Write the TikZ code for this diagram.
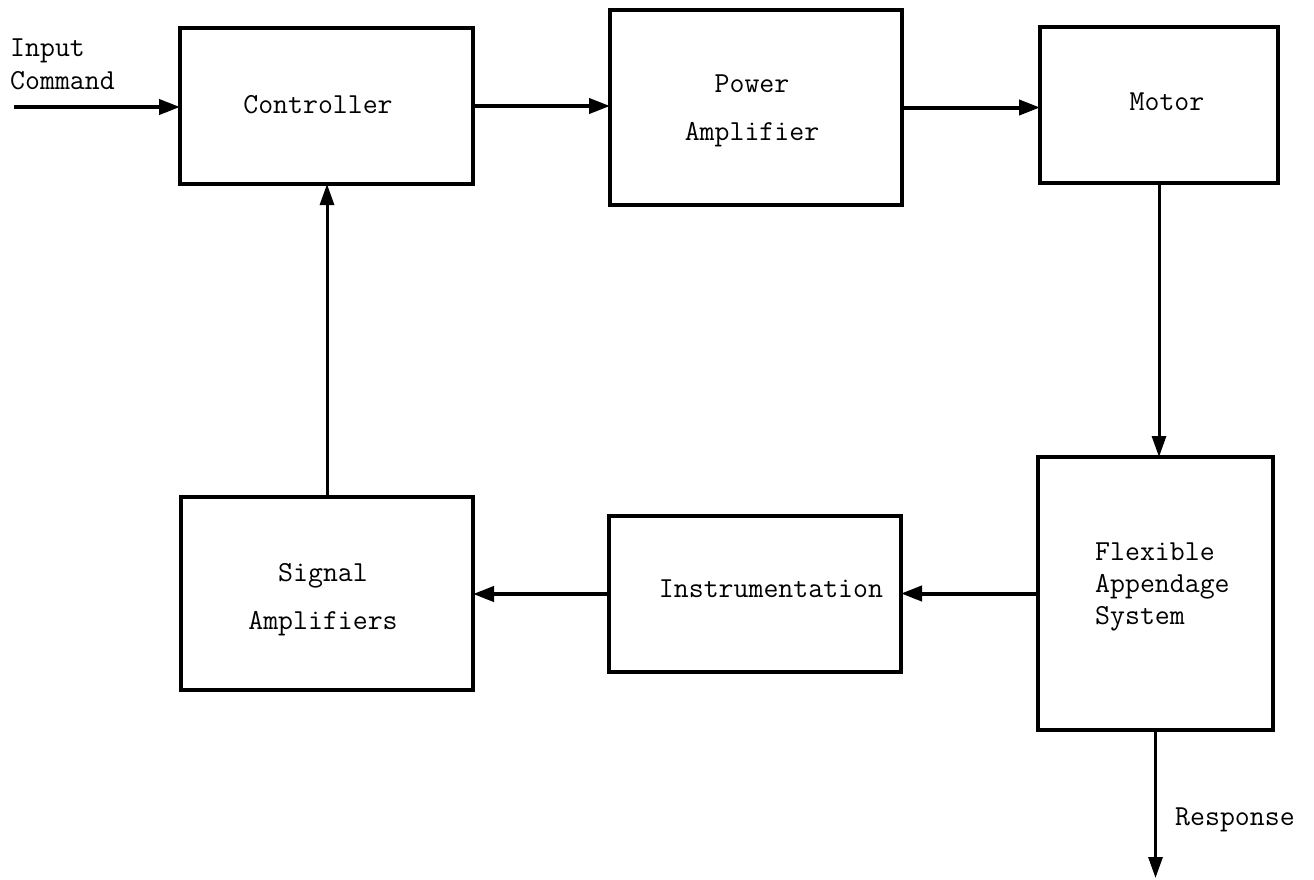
\documentclass[tikz,border=0pt]{standalone}
\usepackage{fontspec}
\usetikzlibrary{arrows.meta}
\begin{document}
\begin{tikzpicture}[x=1pt,y=-1pt,
  box/.style={draw, line width=3.4pt, inner sep=0pt, outer sep=0pt},
  lbl/.style={font=\ttfamily\fontsize{29}{33}\selectfont, inner sep=0pt, align=center},
  flow/.style={line width=4pt, -{Triangle[length=21pt,width=15pt]}},
  vflow/.style={line width=3pt, -{Triangle[length=21pt,width=14pt]}}]
\useasboundingbox (0,0) rectangle (1314,879);
% boxes
\node[box, minimum width=293pt, minimum height=156pt] (ctrl) at (326.5,106) {};
\node[box, minimum width=292pt, minimum height=195pt] (pa) at (756,107.5) {};
\node[box, minimum width=238pt, minimum height=156pt] (motor) at (1159,105) {};
\node[box, minimum width=235pt, minimum height=273pt] (flex) at (1155.5,593.5) {};
\node[box, minimum width=292pt, minimum height=156pt] (instr) at (755,594) {};
\node[box, minimum width=292pt, minimum height=193pt] (sig) at (327,593.5) {};
% texts
\node[lbl] (tctrl) at (318,105) {Controller};
\node[lbl, font=\ttfamily\fontsize{29}{48}\selectfont] (tpa) at (752,111) {Power\\Amplifier};
\node[lbl] (tmotor) at (1167,102) {Motor};
\node[lbl] (tinstr) at (771,589) {Instrumentation};
\node[lbl, font=\ttfamily\fontsize{29}{48}\selectfont] (tsig) at (323,600) {Signal\\Amplifiers};
\node[lbl, anchor=west, align=left, font=\ttfamily\fontsize{29}{32}\selectfont] (tflex) at (1095,587) {Flexible\\Appendage\\System};
\node[lbl, anchor=west, align=left] (tin) at (10,64) {Input\\Command};
\node[lbl, anchor=west] (tresp) at (1175,820) {Response};
% connectors
\coordinate (in) at (14,107);
\coordinate (resp) at (1158,878);
\draw[flow] (in) -- (in -| ctrl.west);
\draw[flow] (ctrl.east) -- (ctrl.east -| pa.west);
\draw[flow] (pa.east) -- (pa.east -| motor.west);
\draw[vflow] (motor.south) -- (motor.south |- flex.north);
\draw[flow] (flex.west) -- (flex.west -| instr.east);
\draw[flow] (instr.west) -- (instr.west -| sig.east);
\draw[vflow] (sig.north) -- (sig.north |- ctrl.south);
\draw[vflow] (flex.south) -- (flex.south |- resp);
\end{tikzpicture}
\end{document}
